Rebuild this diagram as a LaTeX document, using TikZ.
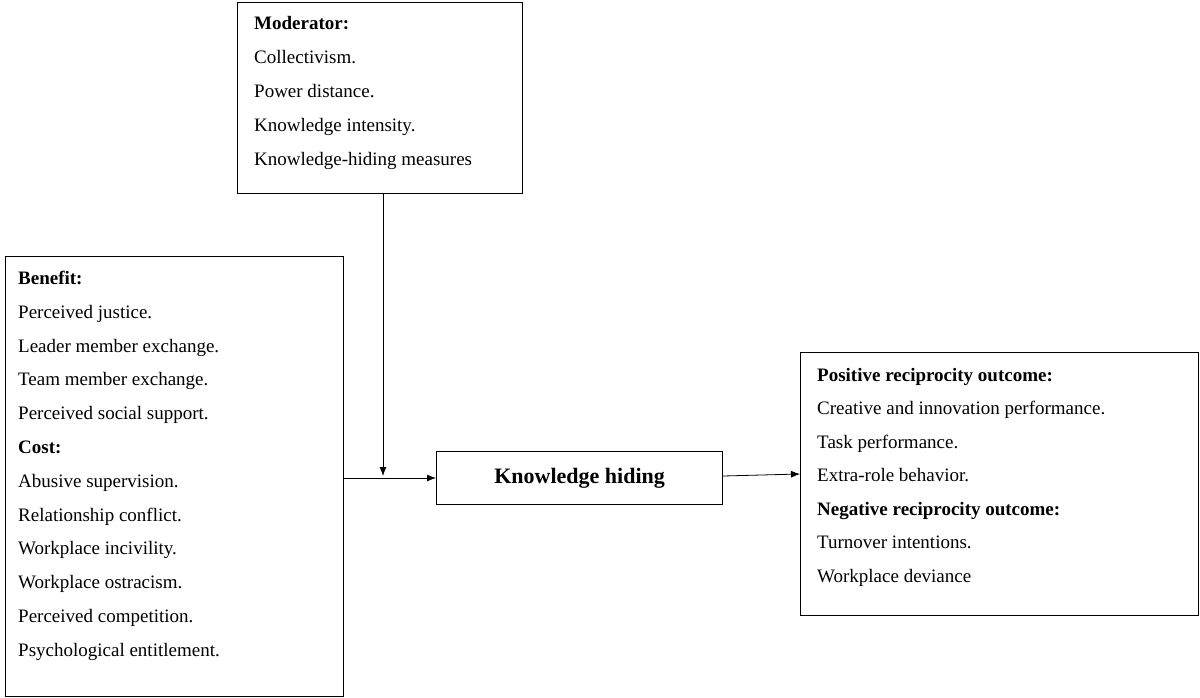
\documentclass[tikz,border=0pt]{standalone}
\usepackage{fontspec}
\setmainfont{Liberation Serif}
\usetikzlibrary{arrows.meta}
\begin{document}
\begin{tikzpicture}[x=1pt,y=-1pt,
  box/.style={draw,line width=1.2pt},
  txt/.style={anchor=west,align=left,inner sep=0pt},
  arr/.style={-{Latex[length=9pt,width=7pt]},line width=0.8pt}]
\useasboundingbox (0,0) rectangle (1200,698);
\node[box,minimum width=285pt,minimum height=191pt,anchor=north west] (mod) at (237,2) {};
\node[box,minimum width=338pt,minimum height=440pt,anchor=north west] (ben) at (5,256) {};
\node[box,minimum width=286pt,minimum height=53pt,anchor=north west,font=\fontsize{22}{26}\selectfont\bfseries] (kh) at (436,451) {Knowledge hiding};
\node[box,minimum width=398pt,minimum height=263pt,anchor=north west] (out) at (800,352) {};
\node[txt,anchor=north west,font=\fontsize{19}{34}\selectfont] (modt) at (254,16) {\textbf{Moderator:}\\Collectivism.\\Power distance.\\Knowledge intensity.\\Knowledge-hiding measures};
\node[txt,anchor=north west,font=\fontsize{19}{33.8}\selectfont] (bent) at (18,271) {\textbf{Benefit:}\\Perceived justice.\\Leader member exchange.\\Team member exchange.\\Perceived social support.\\\textbf{Cost:}\\Abusive supervision.\\Relationship conflict.\\Workplace incivility.\\Workplace ostracism.\\Perceived competition.\\Psychological entitlement.};
\node[txt,anchor=north west,font=\fontsize{19}{33.5}\selectfont] (outt) at (817,368) {\textbf{Positive reciprocity outcome:}\\Creative and innovation performance.\\Task performance.\\Extra-role behavior.\\\textbf{Negative reciprocity outcome:}\\Turnover intentions.\\Workplace deviance};
\coordinate (mid) at (383,476);
\draw[arr] (mod.south west -| mid) -- (mid);
\draw[arr] (ben.east |- 0,478) -- (kh.west |- 0,478);
\draw[arr] (kh.east |- 0,476) -- (out.west |- 0,474);
\end{tikzpicture}
\end{document}
